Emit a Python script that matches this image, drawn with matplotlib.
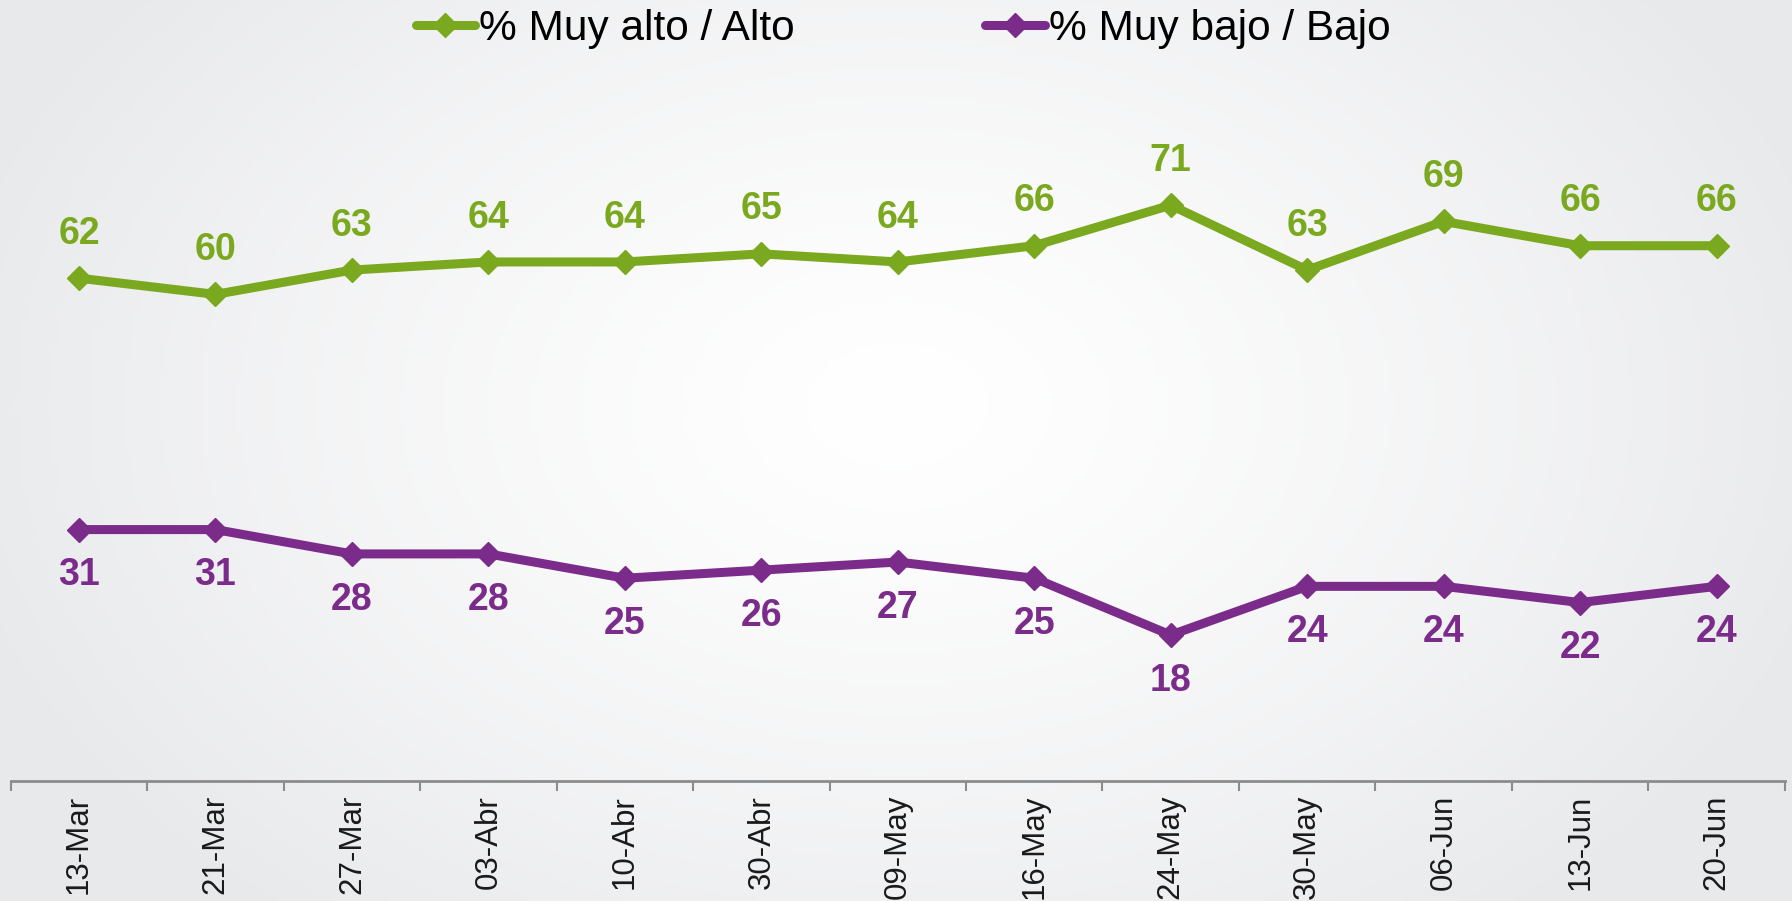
import matplotlib

matplotlib.use("Agg")
import matplotlib.pyplot as plt
import numpy as np

plt.rcParams["font.family"] = ["Liberation Sans", "DejaVu Sans"]

dates = ["13-Mar", "21-Mar", "27-Mar", "03-Abr", "10-Abr", "30-Abr", "09-May",
         "16-May", "24-May", "30-May", "06-Jun", "13-Jun", "20-Jun"]
high_pct = [62, 60, 63, 64, 64, 65, 64, 66, 71, 63, 69, 66, 66]
low_pct = [31, 31, 28, 28, 25, 26, 27, 25, 18, 24, 24, 22, 24]

GREEN = "#7aa81e"
PURPLE = "#7b2c8b"

fig = plt.figure(figsize=(17.92, 9.01), dpi=100)

# soft radial background, white in the middle fading to light grey
bg = fig.add_axes([0, 0, 1, 1], zorder=0)
gx, gy = np.meshgrid(np.linspace(0, 1, 400), np.linspace(0, 1, 200))
dist = np.sqrt(((gx - 0.5) / 0.55) ** 2 + ((gy - 0.45) / 0.75) ** 2)
shade = np.clip(dist, 0, 1) ** 1.3
edge = np.array([0.91, 0.914, 0.922])
img = 1 - shade[..., None] * (1 - edge)
bg.imshow(img, extent=[0, 1, 0, 1], aspect="auto", origin="upper")
bg.axis("off")

ax = fig.add_axes([0.006, 0.1332, 0.99, 0.8668], zorder=1)
ax.patch.set_alpha(0)
x = np.arange(len(dates))

ax.plot(x, high_pct, color=GREEN, lw=6.5, marker="D", ms=12.5, label="% Muy alto / Alto",
        solid_capstyle="round")
ax.plot(x, low_pct, color=PURPLE, lw=6.5, marker="D", ms=12.5, label="% Muy bajo / Bajo",
        solid_capstyle="round")

for xi, v in zip(x, high_pct):
    ax.annotate(str(v), (xi, v), xytext=(0, 32), textcoords="offset points",
                ha="center", va="center", fontsize=27, fontweight="bold", color=GREEN)
for xi, v in zip(x, low_pct):
    ax.annotate(str(v), (xi, v), xytext=(0, -33), textcoords="offset points",
                ha="center", va="center", fontsize=27, fontweight="bold", color=PURPLE)

ax.set_xlim(-0.5, len(dates) - 0.5)
ax.set_ylim(0, 96.3)
ax.set_yticks([])
ax.set_xticks(np.arange(len(dates) + 1) - 0.5)
ax.set_xticklabels([])
ax.set_xticks(x, minor=True)
ax.set_xticklabels(dates, minor=True, rotation=90, fontsize=22.5, color="#1a1a1a")
ax.tick_params(axis="x", which="major", length=7, width=1.5, color="#8c8c8c", direction="out")
ax.tick_params(axis="x", which="minor", length=0, pad=10)
for side in ["top", "right", "left"]:
    ax.spines[side].set_visible(False)
ax.spines["bottom"].set_color("#8c8c8c")
ax.spines["bottom"].set_linewidth(2)

fig.legend(loc="center", bbox_to_anchor=(0.504, 0.968), ncol=2, frameon=False,
           fontsize=30.5, handlelength=1.4, handletextpad=0.1, columnspacing=4.5,
           borderaxespad=0)

fig.savefig("out.png", dpi=100)
